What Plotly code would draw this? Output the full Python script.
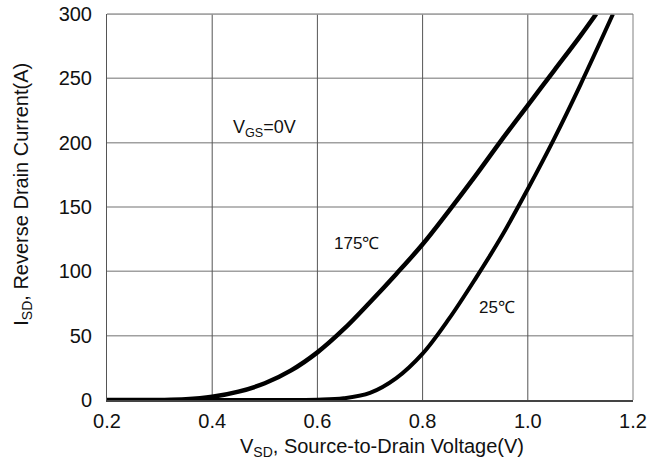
import plotly.graph_objects as go

# 175 C curve
v_175 = [0.2, 0.3, 0.35, 0.4, 0.45, 0.5, 0.55, 0.6, 0.65, 0.7, 0.75, 0.8, 0.85, 0.9, 0.95, 1.0, 1.05, 1.1, 1.13]
i_175 = [0, 0, 0.5, 2.5, 6.5, 13, 23, 37, 55, 76, 98, 121, 147, 174, 202, 229, 256, 283, 300]

# 25 C curve
v_25 = [0.2, 0.5, 0.6, 0.65, 0.7, 0.75, 0.8, 0.85, 0.9, 0.95, 1.0, 1.05, 1.1, 1.162]
i_25 = [0, 0, 0.2, 1.3, 5.5, 17, 36, 63, 94, 127, 164, 203, 245, 300]

x_ticks = [0.2, 0.4, 0.6, 0.8, 1.0, 1.2]
x_tick_text = ["0.2", "0.4", "0.6", "0.8", "1.0", "1.2"]
y_ticks = [0, 50, 100, 150, 200, 250, 300]

FONT = "Liberation Sans, Arial, sans-serif"

fig = go.Figure()

# horizontal grid lines (gray)
for y in y_ticks[1:]:
    fig.add_shape(type="line", xref="paper", yref="y", x0=0, x1=1, y0=y, y1=y,
                  line=dict(color="#a0a0a0", width=1.5), layer="below")
# vertical grid lines (darker)
for x in x_ticks[1:-1]:
    fig.add_shape(type="line", xref="x", yref="paper", x0=x, x1=x, y0=0, y1=1,
                  line=dict(color="#555555", width=1), layer="below")
# border: top & right gray
fig.add_shape(type="line", xref="paper", yref="paper", x0=0, x1=1, y0=1, y1=1,
              line=dict(color="#a0a0a0", width=1.5))
fig.add_shape(type="line", xref="paper", yref="paper", x0=1, x1=1, y0=0, y1=1,
              line=dict(color="#808080", width=1))

fig.add_trace(go.Scatter(x=v_175, y=i_175, mode="lines",
                         line=dict(color="black", width=4.5, shape="spline", smoothing=1.0),
                         showlegend=False, hoverinfo="skip"))
fig.add_trace(go.Scatter(x=v_25, y=i_25, mode="lines",
                         line=dict(color="black", width=4, shape="spline", smoothing=1.0),
                         showlegend=False, hoverinfo="skip"))

fig.add_annotation(x=0.5, y=211, text="V<sub>GS</sub>=0V", showarrow=False,
                   xanchor="center", yanchor="middle",
                   font=dict(family=FONT, size=18, color="#111"))
fig.add_annotation(x=0.675, y=122, text="175℃", showarrow=False,
                   xanchor="center", yanchor="middle",
                   font=dict(family=FONT, size=17, color="#111"))
fig.add_annotation(x=0.941, y=72, text="25℃", showarrow=False,
                   xanchor="center", yanchor="middle",
                   font=dict(family=FONT, size=17, color="#111"))

# axis titles
fig.add_annotation(xref="paper", yref="paper", x=0.523, y=-0.122,
                   xanchor="center", yanchor="middle",
                   text="V<sub>SD</sub>, Source-to-Drain Voltage(V)", showarrow=False,
                   font=dict(family=FONT, size=20, color="#111"))
fig.add_annotation(xref="paper", yref="paper", x=-0.16, y=0.534, textangle=-90,
                   xanchor="center", yanchor="middle",
                   text="I<sub>SD</sub>, Reverse Drain Current(A)", showarrow=False,
                   font=dict(family=FONT, size=20, color="#111"))

fig.update_layout(
    width=660, height=465,
    margin=dict(l=107, r=27, t=14, b=65, autoexpand=False),
    plot_bgcolor="white", paper_bgcolor="white",
    font=dict(family=FONT, size=20, color="#111"),
    xaxis=dict(range=[0.2, 1.2], tickvals=x_ticks, ticktext=x_tick_text, automargin=False,
               showgrid=False, zeroline=False, showline=True, linecolor="#444", linewidth=1.5,
               ticks="", ticklen=0, tickfont=dict(size=20), ticklabelstandoff=2,
               ticklabeloverflow="allow"),
    yaxis=dict(range=[0, 300], tickvals=y_ticks, automargin=False,
               showgrid=False, zeroline=False, showline=True, linecolor="#555", linewidth=1,
               ticks="", ticklen=0, tickfont=dict(size=20), ticklabelstandoff=10,
               ticklabeloverflow="allow"),
)

fig.write_html("out.html", config={"displayModeBar": False},
               post_script="document.body.style.margin='0';")
